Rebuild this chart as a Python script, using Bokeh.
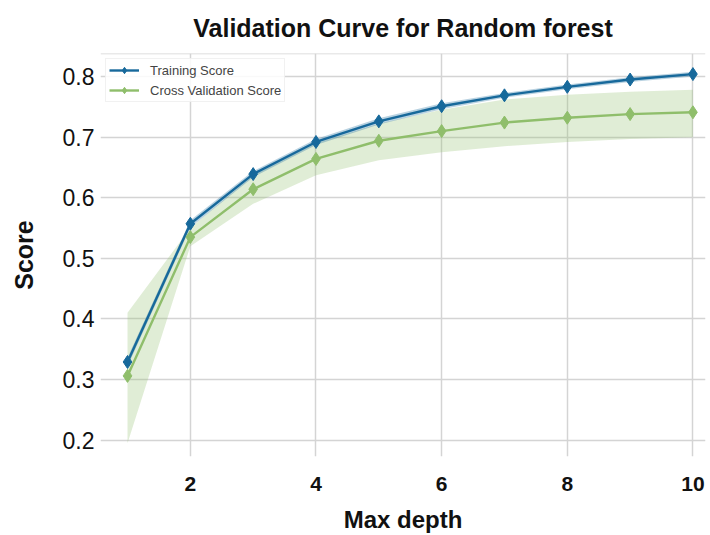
from bokeh.plotting import figure
from bokeh.models import ColumnDataSource, Range1d, FixedTicker, Legend, LegendItem, Span
from bokeh.embed import file_html
from bokeh.resources import INLINE

max_depth = [1, 2, 3, 4, 5, 6, 7, 8, 9, 10]
train_score = [0.329, 0.557, 0.639, 0.692, 0.726, 0.751, 0.769, 0.783, 0.795, 0.804]
train_lo = [0.322, 0.551, 0.634, 0.687, 0.721, 0.746, 0.765, 0.779, 0.791, 0.800]
train_hi = [0.336, 0.563, 0.644, 0.697, 0.731, 0.756, 0.773, 0.787, 0.799, 0.808]
cv_score = [0.306, 0.535, 0.614, 0.664, 0.694, 0.710, 0.724, 0.732, 0.738, 0.741]
cv_lo = [0.195, 0.520, 0.590, 0.637, 0.662, 0.675, 0.685, 0.692, 0.697, 0.700]
cv_hi = [0.410, 0.550, 0.637, 0.690, 0.722, 0.745, 0.762, 0.770, 0.775, 0.778]
x_ticks = [2, 4, 6, 8, 10]
y_ticks = [0.2, 0.3, 0.4, 0.5, 0.6, 0.7, 0.8]
y_top = 0.838

BLUE = "#17699b"
GREEN = "#8fbe6b"
FONT = "Liberation Sans"

src = ColumnDataSource(dict(x=max_depth, tr=train_score, tlo=train_lo, thi=train_hi,
                            cv=cv_score, clo=cv_lo, chi=cv_hi))

p = figure(width=710, height=535, output_backend="svg", toolbar_location=None,
           x_range=Range1d(0.57, 10.2), y_range=Range1d(0.173, y_top),
           title="Validation Curve for Random forest",
           min_border_left=100, min_border_right=5, min_border_top=52, min_border_bottom=78)

p.title.align = "center"
p.title.text_font = FONT
p.title.text_font_size = "25px"
p.title.text_font_style = "bold"
p.title.text_color = "#111111"
p.title.offset = 0
p.title.standoff = 23

p.background_fill_color = "white"
p.border_fill_color = "white"
p.outline_line_color = None

p.add_layout(Span(location=y_top, dimension="width", line_color="#d4d4d4", line_width=1.5))

p.varea(x="x", y1="clo", y2="chi", source=src, fill_color=GREEN, fill_alpha=0.28)
p.varea(x="x", y1="tlo", y2="thi", source=src, fill_color=BLUE, fill_alpha=0.3)

l1 = p.line("x", "tr", source=src, line_color=BLUE, line_width=2.4)
m1 = p.scatter("x", "tr", source=src, marker="diamond", size=13, fill_color=BLUE, line_color=BLUE)
l2 = p.line("x", "cv", source=src, line_color=GREEN, line_width=2.4)
m2 = p.scatter("x", "cv", source=src, marker="diamond", size=13, fill_color=GREEN, line_color=GREEN)

legend = Legend(items=[LegendItem(label="Training Score", renderers=[l1, m1]),
                       LegendItem(label="Cross Validation Score", renderers=[l2, m2])],
                location="top_left")
legend.label_text_font = FONT
legend.label_text_font_size = "13px"
legend.label_text_color = "#444444"
legend.border_line_color = "#e3e3e3"
legend.border_line_width = 1
legend.background_fill_color = "white"
legend.background_fill_alpha = 0.85
legend.glyph_width = 30
legend.glyph_height = 16
legend.label_height = 16
legend.spacing = 4
legend.padding = 3
legend.margin = 5
legend.label_standoff = 11
p.add_layout(legend)

p.xaxis.ticker = FixedTicker(ticks=x_ticks)
p.yaxis.ticker = FixedTicker(ticks=y_ticks)
p.xgrid.ticker = FixedTicker(ticks=x_ticks)
p.ygrid.ticker = FixedTicker(ticks=y_ticks)
p.grid.grid_line_color = "#d4d4d4"
p.grid.grid_line_width = 1.5

for ax in (p.xaxis, p.yaxis):
    ax.axis_line_color = None
    ax.major_tick_line_color = None
    ax.minor_tick_line_color = None
    ax.major_tick_out = 0
    ax.major_tick_in = 0
    ax.minor_tick_out = 0
    ax.major_label_text_font = FONT
    ax.major_label_text_color = "#111111"
    ax.axis_label_text_font = FONT
    ax.axis_label_text_font_style = "bold"
    ax.axis_label_text_color = "#111111"

p.xaxis.axis_label = "Max depth"
p.xaxis.axis_label_text_font_size = "24px"
p.xaxis.major_label_text_font_size = "21px"
p.xaxis.major_label_text_font_style = "bold"
p.xaxis.major_label_standoff = 20
p.xaxis.axis_label_standoff = 12

p.yaxis.axis_label = "Score"
p.yaxis.axis_label_text_font_size = "25px"
p.yaxis.major_label_text_font_size = "23px"
p.yaxis.major_label_standoff = 6
p.yaxis.axis_label_standoff = 22

open("out.html", "w").write(file_html(p, INLINE))
